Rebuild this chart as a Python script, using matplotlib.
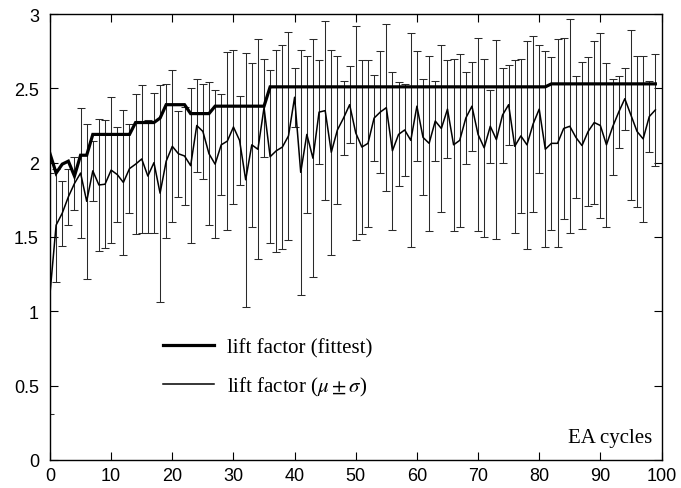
import matplotlib
matplotlib.use("Agg")
import matplotlib.pyplot as plt
import numpy as np

cycles = list(range(100))

fittest = [2.06, 1.93, 1.99, 2.01, 1.91, 2.05, 2.05,
           2.19, 2.19, 2.19, 2.19, 2.19, 2.19, 2.19,
           2.27, 2.27, 2.27, 2.27, 2.30,
           2.39, 2.39, 2.39, 2.39,
           2.33, 2.33, 2.33, 2.33,
           2.38, 2.38, 2.38, 2.38, 2.38, 2.38, 2.38, 2.38, 2.38,
           2.51, 2.51, 2.51, 2.51, 2.51, 2.51, 2.51, 2.51, 2.51, 2.51,
           2.51, 2.51, 2.51, 2.51, 2.51, 2.51, 2.51, 2.51, 2.51, 2.51,
           2.51, 2.51, 2.51, 2.51, 2.51, 2.51, 2.51, 2.51, 2.51, 2.51,
           2.51, 2.51, 2.51, 2.51, 2.51, 2.51, 2.51, 2.51, 2.51, 2.51,
           2.51, 2.51, 2.51, 2.51, 2.51, 2.51,
           2.53, 2.53, 2.53, 2.53, 2.53, 2.53, 2.53, 2.53, 2.53, 2.53,
           2.53, 2.53, 2.53, 2.53, 2.53, 2.53, 2.53, 2.53]

mean = [1.12, 1.58, 1.66, 1.77, 1.86, 1.93, 1.74, 1.945, 1.85, 1.855,
        1.95, 1.92, 1.867, 1.96, 1.99, 2.025, 1.91, 2.0, 1.795, 2.01,
        2.11, 2.06, 2.045, 1.98, 2.25, 2.21, 2.06, 1.99, 2.12, 2.145,
        2.24, 2.15, 1.885, 2.12, 2.09, 2.37, 2.04, 2.08, 2.105, 2.18,
        2.44, 1.935, 2.19, 2.03, 2.34, 2.35, 2.07, 2.22, 2.30, 2.39,
        2.20, 2.105, 2.13, 2.30, 2.34, 2.37, 2.08, 2.19, 2.22, 2.15,
        2.38, 2.17, 2.13, 2.28, 2.23, 2.36, 2.12, 2.15, 2.30, 2.38,
        2.19, 2.10, 2.245, 2.155, 2.32, 2.39, 2.11, 2.18, 2.12, 2.26,
        2.36, 2.09, 2.13, 2.13, 2.23, 2.245, 2.17, 2.115, 2.21, 2.27,
        2.25, 2.12, 2.24, 2.34, 2.43, 2.32, 2.21, 2.16, 2.31, 2.355]

sigma = [0.81, 0.38, 0.22, 0.19, 0.18, 0.44, 0.52, 0.20, 0.445, 0.43,
         0.49, 0.32, 0.485, 0.30, 0.47, 0.50, 0.38, 0.47, 0.73, 0.52,
         0.51, 0.29, 0.33, 0.52, 0.31, 0.32, 0.48, 0.50, 0.34, 0.60,
         0.52, 0.30, 0.855, 0.55, 0.74, 0.33, 0.58, 0.68, 0.685, 0.70,
         0.20, 0.825, 0.53, 0.80, 0.35, 0.60, 0.69, 0.50, 0.25, 0.26,
         0.72, 0.585, 0.56, 0.29, 0.41, 0.56, 0.53, 0.35, 0.31, 0.72,
         0.37, 0.39, 0.59, 0.27, 0.56, 0.33, 0.58, 0.58, 0.31, 0.30,
         0.65, 0.60, 0.245, 0.67, 0.32, 0.27, 0.58, 0.52, 0.70, 0.59,
         0.43, 0.66, 0.58, 0.70, 0.61, 0.72, 0.41, 0.56, 0.50, 0.55,
         0.62, 0.55, 0.32, 0.24, 0.21, 0.57, 0.51, 0.56, 0.24, 0.375]

xticks = [0, 10, 20, 30, 40, 50, 60, 70, 80, 90, 100]
yticks = [0, 0.5, 1, 1.5, 2, 2.5, 3]
ytick_labels = ["0", "0.5", "1", "1.5", "2", "2.5", "3"]

plt.rcParams['mathtext.fontset'] = 'stix'

fig = plt.figure(figsize=(6.81, 4.89), dpi=100)
ax = fig.add_axes([50 / 681, 28 / 489, 611.5 / 681, 446 / 489])

ax.errorbar(cycles, mean, yerr=sigma, fmt='none', ecolor='#2a2a2a',
            elinewidth=0.75, capsize=2.6, capthick=0.75, zorder=2)
ax.plot(cycles, mean, color='black', lw=1.1, zorder=3,
        label=r'lift factor ($\mu \pm \sigma$)')
ax.plot(cycles, fittest, color='black', lw=2.3, zorder=4,
        solid_joinstyle='miter', label='lift factor (fittest)')

ax.set_xlim(0, 100)
ax.set_ylim(0, 3)
ax.set_xticks(xticks)
ax.set_xticklabels([str(t) for t in xticks])
ax.set_yticks(yticks)
ax.set_yticklabels(ytick_labels)
ax.tick_params(direction='in', length=5.5, width=0.8, top=True, right=True,
               labelsize=13)
ax.tick_params(axis='x', pad=5)
ax.tick_params(axis='y', pad=8)
for lab in ax.get_xticklabels() + ax.get_yticklabels():
    lab.set_fontfamily('Liberation Sans')
for sp in ax.spines.values():
    sp.set_linewidth(1.0)

handles, labels = ax.get_legend_handles_labels()
leg = ax.legend(handles[::-1], labels[::-1], loc='center left',
                bbox_to_anchor=((163 - 50) / 611.5, (461 - 369) / 446),
                frameon=False, borderpad=0, borderaxespad=0,
                handlelength=2.45, handletextpad=0.6, labelspacing=0.82,
                prop={'family': 'Liberation Serif', 'size': 15})

ax.text(0.985, 0.03, 'EA cycles', transform=ax.transAxes, ha='right',
        va='bottom', fontsize=15, family='Liberation Serif')

fig.savefig('out.png', dpi=100)
